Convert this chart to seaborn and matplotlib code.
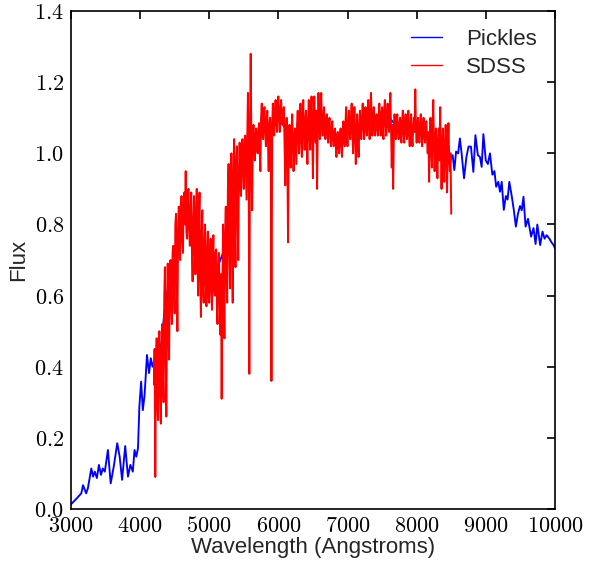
import numpy as np
import pandas as pd
import matplotlib
matplotlib.use("Agg")
import matplotlib.pyplot as plt
from matplotlib.ticker import FuncFormatter
import seaborn as sns

# ---------------- data ----------------
pickles_wave = [3000, 3075, 3150, 3175, 3220, 3245, 3295, 3320, 3345, 3375,
                3405, 3435, 3460, 3490, 3535, 3575, 3620, 3670, 3705, 3740,
                3785, 3825, 3860, 3895, 3920, 3945, 3970, 3990, 4015, 4040,
                4065, 4100, 4130, 4155, 4180, 4210, 4240, 4270, 4300, 4350,
                4400, 4450, 4500, 4550, 4600, 4700, 4800, 4900, 5000, 5100,
                5200, 5250, 5300, 5400, 5500, 5600, 5700, 5800, 5900, 6000,
                6100, 6200, 6300, 6400, 6500, 6600, 6700, 6800, 6900, 7000,
                7100, 7200, 7300, 7400, 7500, 7600, 7700, 7800, 7900, 8000,
                8100, 8200, 8300, 8400, 8480, 8520, 8545, 8570, 8600, 8625,
                8650, 8685, 8720, 8750, 8785, 8820, 8850, 8885, 8915, 8940,
                8965, 9000, 9030, 9060, 9095, 9125, 9150, 9180, 9205, 9230,
                9260, 9290, 9315, 9340, 9375, 9405, 9435, 9465, 9495, 9520,
                9545, 9575, 9610, 9655, 9690, 9720, 9745, 9786, 9820, 9850,
                9880, 9920, 9950, 9980, 10000]
pickles_flux = [0.013, 0.028, 0.044, 0.067, 0.044, 0.058, 0.114, 0.091, 0.105, 0.087,
                0.124, 0.096, 0.114, 0.105, 0.166, 0.072, 0.120, 0.185, 0.147, 0.082,
                0.177, 0.091, 0.124, 0.105, 0.166, 0.147, 0.171, 0.288, 0.358, 0.278,
                0.320, 0.433, 0.382, 0.424, 0.400, 0.420, 0.380, 0.410, 0.450, 0.550,
                0.620, 0.680, 0.720, 0.780, 0.820, 0.830, 0.800, 0.740, 0.700, 0.670,
                0.720, 0.800, 0.860, 0.930, 0.970, 1.000, 1.030, 1.070, 1.060, 1.100,
                1.070, 1.040, 1.070, 1.080, 1.100, 1.120, 1.090, 1.050, 1.040, 1.070,
                1.050, 1.070, 1.090, 1.090, 1.100, 1.100, 1.080, 1.080, 1.070, 1.070,
                1.060, 1.040, 1.020, 0.990, 0.980, 0.995, 0.953, 1.005, 1.000, 1.042,
                1.000, 0.930, 0.990, 1.019, 1.019, 0.948, 1.051, 0.995, 0.990, 0.962,
                1.054, 0.980, 0.970, 1.000, 0.940, 0.950, 0.906, 0.920, 0.892, 0.920,
                0.841, 0.880, 0.870, 0.920, 0.880, 0.841, 0.794, 0.830, 0.852, 0.840,
                0.878, 0.794, 0.816, 0.766, 0.790, 0.745, 0.800, 0.742, 0.780, 0.760,
                0.770, 0.760, 0.750, 0.742, 0.733]

# SDSS spectrum sampled every 10 Angstroms from 4200 to 8500
sdss_wave = np.arange(4200, 8501, 10)
sdss_flux = [
    0.35, 0.45, 0.09, 0.40, 0.48, 0.30, 0.25, 0.46, 0.50, 0.33,   # 4200
    0.24, 0.44, 0.52, 0.38, 0.30, 0.60, 0.68, 0.45, 0.26, 0.55,   # 4300
    0.69, 0.50, 0.42, 0.66, 0.70, 0.58, 0.52, 0.72, 0.74, 0.62,   # 4400
    0.55, 0.80, 0.83, 0.65, 0.50, 0.78, 0.85, 0.74, 0.70, 0.86,   # 4500
    0.88, 0.76, 0.72, 0.86, 0.89, 0.80, 0.95, 0.78, 0.76, 0.88,   # 4600
    0.90, 0.79, 0.74, 0.84, 0.89, 0.72, 0.64, 0.80, 0.88, 0.74,   # 4700
    0.66, 0.84, 0.90, 0.70, 0.60, 0.82, 0.89, 0.65, 0.54, 0.76,   # 4800
    0.84, 0.62, 0.58, 0.74, 0.80, 0.64, 0.57, 0.72, 0.78, 0.60,   # 4900
    0.58, 0.70, 0.76, 0.62, 0.56, 0.70, 0.77, 0.63, 0.60, 0.72,   # 5000
    0.73, 0.58, 0.52, 0.68, 0.72, 0.60, 0.49, 0.66, 0.31, 0.62,   # 5100
    0.80, 0.62, 0.48, 0.78, 0.85, 0.66, 0.58, 0.90, 0.97, 0.75,   # 5200
    0.62, 0.92, 1.00, 0.72, 0.58, 0.95, 1.04, 0.80, 0.68, 0.98,   # 5300
    1.02, 0.82, 0.70, 0.95, 1.03, 0.92, 0.88, 1.00, 1.04, 0.95,   # 5400
    0.90, 1.02, 1.05, 0.96, 0.87, 1.04, 1.17, 1.00, 0.38, 1.05,   # 5500
    1.28, 1.02, 0.84, 1.04, 1.08, 1.02, 0.98, 1.05, 1.07, 1.02,   # 5600
    1.00, 1.06, 1.085, 1.01, 0.95, 1.10, 1.14, 1.07, 1.04, 1.12,  # 5700
    1.13, 1.06, 1.02, 1.09, 1.12, 1.04, 0.95, 1.08, 1.10, 1.05,   # 5800
    0.36, 1.07, 1.14, 1.09, 1.05, 1.12, 1.15, 1.10, 1.06, 1.13,   # 5900
    1.16, 1.10, 1.06, 1.12, 1.15, 1.10, 1.08, 1.12, 1.13, 1.02,   # 6000
    0.91, 1.06, 1.10, 1.00, 0.75, 1.04, 1.08, 1.01, 0.96, 1.06,   # 6100
    1.11, 1.03, 0.95, 1.04, 1.07, 1.02, 0.97, 1.08, 1.12, 1.05,   # 6200
    1.00, 1.09, 1.14, 1.04, 0.99, 1.10, 1.15, 1.06, 1.01, 1.09,   # 6300
    1.12, 1.04, 0.97, 1.08, 1.15, 1.06, 1.01, 1.10, 1.16, 1.05,   # 6400
    0.93, 1.10, 1.16, 1.08, 1.03, 1.12, 0.90, 1.08, 1.17, 1.10,   # 6500
    1.04, 1.12, 1.17, 1.08, 1.05, 1.10, 1.13, 1.07, 1.04, 1.09,   # 6600
    1.11, 1.06, 1.03, 1.08, 1.10, 1.05, 1.02, 1.07, 1.09, 1.04,   # 6700
    1.02, 1.06, 1.07, 1.03, 0.99, 1.05, 1.06, 1.02, 1.00, 1.05,   # 6800
    1.07, 1.03, 0.99, 1.06, 1.09, 1.04, 1.02, 1.08, 1.13, 1.06,   # 6900
    1.02, 1.08, 1.12, 1.06, 1.04, 1.10, 1.14, 1.07, 1.00, 1.08,   # 7000
    1.13, 1.05, 0.97, 1.06, 1.11, 1.04, 0.99, 1.07, 1.12, 1.06,   # 7100
    1.04, 1.10, 1.14, 1.08, 1.04, 1.09, 1.13, 1.07, 1.05, 1.11,   # 7200
    1.15, 1.08, 1.04, 1.12, 1.17, 1.09, 1.05, 1.10, 1.13, 1.07,   # 7300
    1.05, 1.09, 1.11, 1.07, 1.05, 1.10, 1.14, 1.08, 1.05, 1.11,   # 7400
    1.13, 1.07, 1.04, 1.12, 1.15, 1.09, 1.05, 1.10, 1.14, 1.08,   # 7500
    1.06, 1.12, 1.17, 1.06, 0.96, 1.08, 0.90, 1.05, 1.11, 1.07,   # 7600
    1.04, 1.09, 1.11, 1.06, 1.04, 1.08, 1.10, 1.05, 1.03, 1.09,   # 7700
    1.12, 1.06, 1.03, 1.08, 1.11, 1.06, 1.04, 1.09, 1.12, 1.05,   # 7800
    1.02, 1.08, 1.11, 1.05, 1.02, 1.07, 1.10, 1.06, 1.18, 1.07,   # 7900
    1.03, 1.08, 1.10, 1.05, 1.03, 1.08, 1.11, 1.06, 1.02, 1.07,   # 8000
    1.10, 1.05, 1.03, 1.07, 1.09, 1.04, 1.00, 1.06, 0.92, 1.04,   # 8100
    1.10, 1.02, 0.96, 1.05, 1.15, 1.03, 0.95, 1.04, 1.07, 1.00,   # 8200
    0.93, 1.03, 1.07, 0.98, 1.13, 1.02, 0.90, 1.01, 1.07, 0.97,   # 8300
    0.92, 1.03, 1.08, 0.98, 0.89, 1.02, 1.085, 0.99, 0.95, 1.00,  # 8400
    0.83,                                                         # 8500
]

x_ticks = [3000, 4000, 5000, 6000, 7000, 8000, 9000, 10000]
y_ticks = [0.0, 0.2, 0.4, 0.6, 0.8, 1.0, 1.2, 1.4]

pickles = pd.DataFrame({"wave": pickles_wave, "flux": pickles_flux})
sdss = pd.DataFrame({"wave": sdss_wave, "flux": sdss_flux})

# ---------------- plot ----------------
sns.set_theme(style="white")
plt.rcParams["font.family"] = ["Liberation Sans", "DejaVu Sans"]
plt.rcParams["mathtext.fontset"] = "cm"

fig = plt.figure(figsize=(5.91, 5.61), dpi=100)
ax = fig.add_axes([0.120, 0.0927, 0.819, 0.8875])

sns.lineplot(data=pickles, x="wave", y="flux", color="#0000ff", lw=1.35,
             label="Pickles", estimator=None, sort=False, ax=ax)
sns.lineplot(data=sdss, x="wave", y="flux", color="#ff0000", lw=1.4,
             label="SDSS", estimator=None, sort=False, ax=ax)

ax.set_xlim(3000, 10000)
ax.set_ylim(0, 1.4)
ax.set_xticks(x_ticks)
ax.set_yticks(y_ticks)
ax.xaxis.set_major_formatter(FuncFormatter(lambda v, p: r"$%d$" % v))
ax.yaxis.set_major_formatter(FuncFormatter(lambda v, p: r"$%.1f$" % v))
ax.tick_params(direction="in", length=5.5, width=1.2, colors="black",
               top=True, right=True, labelsize=16)
ax.tick_params(axis="x", pad=5)
ax.tick_params(axis="y", pad=5)

for s in ax.spines.values():
    s.set_visible(True)
    s.set_color("black")
    s.set_linewidth(1.2)

ax.set_xlabel("Wavelength (Angstroms)", fontsize=16, labelpad=0)
ax.set_ylabel("Flux", fontsize=16, labelpad=4)

leg = ax.legend(loc="upper right", frameon=False, fontsize=16,
                handlelength=1.4, handletextpad=1.1, labelspacing=0.3,
                borderaxespad=0.4)
for line in leg.get_lines():
    line.set_linewidth(1.0)

fig.savefig("out.png", dpi=100)
